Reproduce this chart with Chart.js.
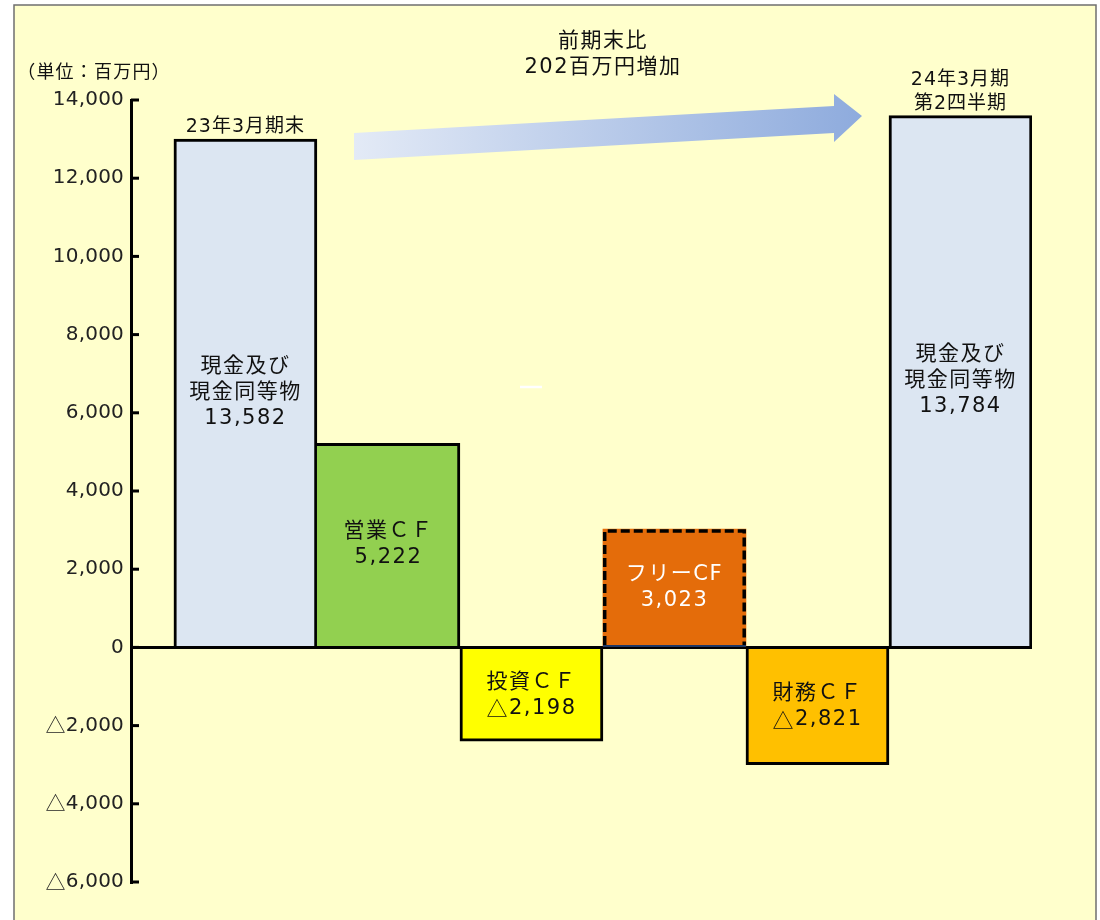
<!DOCTYPE html>
<html>
<head>
<meta charset="utf-8">
<script src="https://cdn.jsdelivr.net/npm/chart.js@4.4.1/dist/chart.umd.min.js"></script>
<style>
html, body { margin: 0; padding: 0; background: #fff; }
#wrap { width: 1100px; height: 920px; }
</style>
</head>
<body>
<div id="wrap"><canvas id="chartCF"></canvas></div>
<script>
// --- dados ---
const slots = [1, 2, 3, 4, 5, 6];
const barFrom = [0, 0, -2400, 0, -3000, 0];
const barTo = [13000, 5222, 0, 3023, 0, 13600];
const barNames = [['現金及び', '現金同等物'], ['営業ＣＦ'], ['投資ＣＦ'], ['フリーCF'], ['財務ＣＦ'], ['現金及び', '現金同等物']];
const barAmounts = [13582, 5222, -2198, 3023, -2821, 13784];
const periodLabels = [['23年3月期末'], [], [], [], [], ['24年3月期', '第2四半期']];
const unitLabel = '（単位：百万円）';
const changeLabel = ['前期末比', '202百万円増加'];
const yMin = -6000, yMax = 14000, yStep = 2000;

const FONT = '"DejaVu Sans", "Noto Sans CJK JP", sans-serif';
const TRI_FONT = '"Noto Sans CJK JP", sans-serif';
const barColors = ['#DCE6F2', '#92D050', '#FFFF00', '#E46C0A', '#FFC000', '#DCE6F2'];
const barBorders = [
    { top: 3, left: 3, right: 3, bottom: 0 },
    { top: 3, left: 0, right: 3, bottom: 0 },
    { top: 0, left: 3, right: 3, bottom: 3 },
    0,
    { top: 0, left: 3, right: 3, bottom: 3 },
    { top: 3, left: 3, right: 3, bottom: 0 }
];

function fmt(v) {
    return (v < 0 ? '△' : '') + Math.abs(v).toLocaleString('en-US');
}

// texto com o triangulo na fonte CJK (mais largo)
function texto(ctx, s, x, y, size, color, align, spacing, fam) {
    ctx.letterSpacing = (spacing === undefined ? 1.5 : spacing) + 'px';
    ctx.fillStyle = color;
    ctx.textAlign = 'left';
    ctx.textBaseline = 'middle';
    var base = fam || FONT;
    var runs = [], cur = '';
    for (const ch of s) {
        if (ch === '△') { if (cur) runs.push([cur, base]); runs.push([ch, TRI_FONT]); cur = ''; }
        else cur += ch;
    }
    if (cur) runs.push([cur, base]);
    var total = 0;
    runs.forEach(r => { ctx.font = size + 'px ' + r[1]; r.push(ctx.measureText(r[0]).width); total += r[2]; });
    var x0 = align === 'right' ? x - total : (align === 'left' ? x : x - total / 2);
    runs.forEach(r => { ctx.font = size + 'px ' + r[1]; ctx.fillText(r[0], x0, y); x0 += r[2]; });
}

// moldura + enfeites
const enfeites = {
    id: 'enfeites',
    beforeDraw(chart) {
        const ctx = chart.ctx;
        ctx.save();
        ctx.fillStyle = '#fff';
        ctx.fillRect(0, 0, chart.width, chart.height);
        ctx.fillStyle = '#FFFFCC';
        ctx.fillRect(14, 5, 1082, 930);
        ctx.strokeStyle = '#6f6f6f';
        ctx.lineWidth = 1.5;
        ctx.strokeRect(14, 5, 1082, 930);
        ctx.restore();
    },
    afterDraw(chart) {
        const ctx = chart.ctx;
        const meta = chart.getDatasetMeta(0);
        const yScale = chart.scales.y;
        const left = chart.chartArea.left;
        ctx.save();

        // borda tracejada da Free CF
        const el = meta.data[3];
        const p = el.getProps(['x', 'y', 'base', 'width'], true);
        const l = p.x - p.width / 2, r = p.x + p.width / 2;
        const t = Math.min(p.y, p.base), b = Math.max(p.y, p.base);
        ctx.strokeStyle = '#1F3864';
        ctx.lineWidth = 2;
        ctx.beginPath(); ctx.moveTo(l, b); ctx.lineTo(r, b); ctx.stroke();
        ctx.strokeStyle = '#000';
        ctx.lineWidth = 3.5;
        ctx.setLineDash([9, 4]);
        ctx.beginPath();
        ctx.moveTo(l + 1.75, b - 1);
        ctx.lineTo(l + 1.75, t + 1.75);
        ctx.lineTo(r - 1.75, t + 1.75);
        ctx.lineTo(r - 1.75, b - 1);
        ctx.stroke();
        ctx.setLineDash([]);

        // ticks para dentro + rotulos do eixo
        ctx.strokeStyle = '#000';
        ctx.lineWidth = 3;
        yScale.ticks.forEach(tk => {
            const y = yScale.getPixelForValue(tk.value);
            ctx.beginPath(); ctx.moveTo(left, y); ctx.lineTo(left + 8, y); ctx.stroke();
            texto(ctx, fmt(tk.value), left - 7, y, 20, '#222', 'right', 0.2);
        });

        // rotulos das barras
        meta.data.forEach((bar, i) => {
            const q = bar.getProps(['x', 'y', 'base'], true);
            const top = Math.min(q.y, q.base), bot = Math.max(q.y, q.base);
            const lines = barNames[i].concat([fmt(barAmounts[i])]);
            const cy = (top + bot) / 2;
            const cor = i === 3 ? '#fff' : '#111';
            lines.forEach((s, k) => texto(ctx, s, q.x, cy + (k - (lines.length - 1) / 2) * 26, 21, cor));
            const per = periodLabels[i];
            per.forEach((s, k) => texto(ctx, s, q.x, top - 12 - (per.length - 1 - k) * 24, 19, '#111', 'center', 1));
        });

        // seta
        const g = ctx.createLinearGradient(354, 0, 862, 0);
        g.addColorStop(0, '#E3EAF6');
        g.addColorStop(1, '#8EABDD');
        ctx.fillStyle = g;
        ctx.beginPath();
        ctx.moveTo(354, 133);
        ctx.lineTo(834, 106);
        ctx.lineTo(834, 94);
        ctx.lineTo(862, 116);
        ctx.lineTo(834, 142);
        ctx.lineTo(834, 133);
        ctx.lineTo(354, 160);
        ctx.closePath();
        ctx.fill();

        texto(ctx, changeLabel[0], 603, 42, 21, '#111');
        texto(ctx, changeLabel[1], 603, 68, 21, '#111');
        texto(ctx, unitLabel, 94, 71, 18, '#111', 'center', 1.2, TRI_FONT);

        // tracinho branco
        ctx.strokeStyle = '#fff';
        ctx.lineWidth = 2.5;
        ctx.beginPath(); ctx.moveTo(520, 387); ctx.lineTo(542, 387); ctx.stroke();
        ctx.restore();
    }
};

new Chart(document.getElementById('chartCF'), {
    type: 'bar',
    data: {
        datasets: [{
            data: slots.map((s, i) => ({ x: s, y: [barFrom[i], barTo[i]] })),
            backgroundColor: barColors,
            borderColor: '#000',
            borderWidth: (c) => barBorders[c.dataIndex],
            borderSkipped: false,
            categoryPercentage: 1,
            barPercentage: 1
        }]
    },
    options: {
        responsive: true, maintainAspectRatio: false, animation: false,
        layout: { padding: { left: 0, top: 100, right: 68, bottom: 38 } },
        plugins: { legend: { display: false }, tooltip: { enabled: false } },
        scales: {
            x: {
                type: 'linear', display: false, offset: false, min: 0.2, max: 6.5,
                grid: { offset: false },
                afterBuildTicks: (s) => { s.ticks = slots.map(v => ({ value: v })); }
            },
            y: {
                min: yMin, max: yMax,
                afterFit: (s) => { s.width = 131; },
                ticks: { stepSize: yStep, display: false, callback: (v) => fmt(v) },
                grid: {
                    drawTicks: false, lineWidth: 3,
                    color: (c) => (c.tick && c.tick.value === 0) ? '#000' : 'rgba(0,0,0,0)'
                },
                border: { display: true, color: '#000', width: 3 }
            }
        }
    },
    plugins: [enfeites]
});
</script>
</body>
</html>
